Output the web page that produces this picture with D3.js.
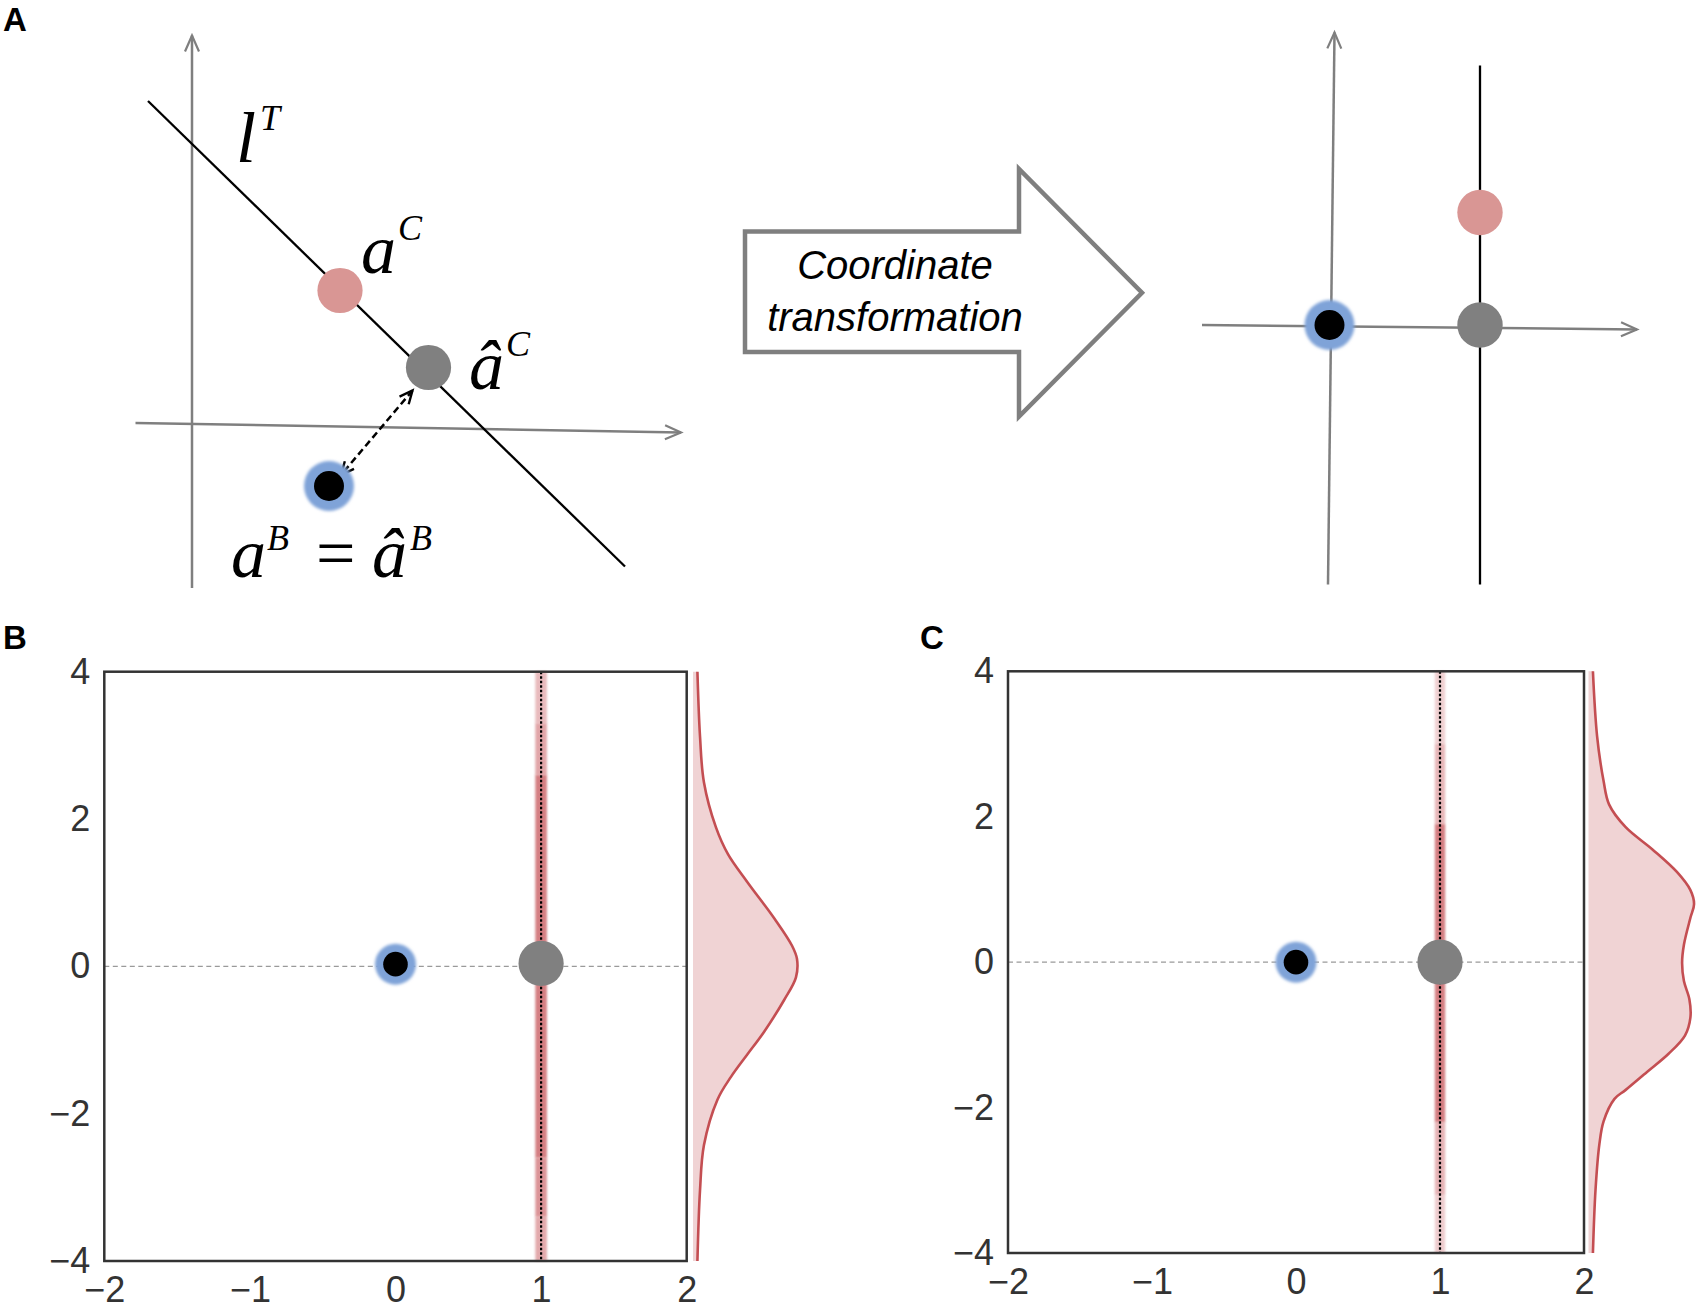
<!DOCTYPE html>
<html><head><meta charset="utf-8">
<script src="https://cdn.jsdelivr.net/npm/d3@7"></script>
<style>body{margin:0;background:#fff}</style>
</head><body>
<svg id="fig" width="1700" height="1312" xmlns="http://www.w3.org/2000/svg"></svg>
<script>
// ================= DATA =================
const panelLabels = ["A", "B", "C"];
const xTicks = [-2, -1, 0, 1, 2];
const yTicks = [-4, -2, 0, 2, 4];

// Panel A, left schematic (concept units)
const axisA_vertical = [[0, -3.28], [0, 7.77]];
const axisA_horizontal = [[-1.13, 0.02], [9.78, -0.17]];
const lineT = [[-0.88, 6.46], [8.66, -2.85]];
const pointA_target = [2.96, 2.67];     // a^C
const pointA_proj = [4.73, 1.13];       // â^C
const pointA_base = [2.74, -1.24];      // a^B
const projArrow = [[4.41, 0.67], [2.98, -1.02]];
const labelA_lT = [0.88, 5.25];
const labelA_aC = [3.38, 3.02];
const labelA_ahatC = [5.54, 0.71];
const labelA_aB = [0.78, -3.06];

// Panel A, right schematic (concept units)
const axisR_vertical = [[-0.03, -5.19], [0.10, 5.85]];
const axisR_horizontal = [[-2.55, 0], [6.15, -0.09]];
const lineR = [[3.01, 5.19], [3.01, -5.19]];
const pointR_target = [3.01, 2.25];
const pointR_base = [0, 0];
const pointR_proj = [3.01, 0];

const arrowText = ["Coordinate", "transformation"];

// Panel B
const baseB = [0, 0.03];
const projB = [1, 0.04];
const lineXB = 1;
const bandB_y0 = [4.0, 3.3, 2.6, -2.6, -3.4];
const bandB_y1 = [3.3, 2.6, -2.6, -3.4, -4.0];
const bandB_alpha = [0.38, 0.5, 0.72, 0.6, 0.48];
const densB_y = [4, 3.12, 2.5, 1.89, 1.52, 1.15, 0.65, 0.28, 0.1, -0.15, -0.46, -0.89, -1.2, -1.5, -1.81, -2.43, -3.04, -4];
const densB_d = [0.017, 0.027, 0.042, 0.088, 0.135, 0.208, 0.313, 0.381, 0.40, 0.396, 0.350, 0.273, 0.208, 0.146, 0.094, 0.042, 0.027, 0.017];

// Panel C
const baseC = [0, 0];
const projC = [1, 0];
const lineXC = 1;
const bandC_y0 = [4.0, 3.0, 1.9, -2.2, -3.2];
const bandC_y1 = [3.0, 1.9, -2.2, -3.2, -4.0];
const bandC_alpha = [0.26, 0.4, 0.72, 0.42, 0.28];
const densC_y = [4, 3.11, 2.49, 2.17, 1.86, 1.55, 1.24, 0.99, 0.8, 0.61, 0.24, -0.01, -0.26, -0.51, -0.76, -1.01, -1.26, -1.51, -1.76, -1.88, -2.19, -2.5, -3.13, -4];
const densC_d = [0.017, 0.033, 0.058, 0.079, 0.142, 0.246, 0.340, 0.392, 0.406, 0.392, 0.367, 0.360, 0.367, 0.388, 0.392, 0.371, 0.308, 0.225, 0.142, 0.100, 0.058, 0.042, 0.027, 0.017];

// ================= DRAW =================
const svg = d3.select("#fig");
const defs = svg.append("defs");

const GRAY = "#7f7f7f", PINK = "#d99694", DGRAY = "#808080", BLUE = "#7fa3d8", RED = "#c44e52";
const SERIF = "'Liberation Serif','Times New Roman',serif";
const SANS = "'Liberation Sans',Arial,Helvetica,sans-serif";

function openMarker(id, len, half, color, sw) {
  defs.append("marker").attr("id", id)
    .attr("markerUnits", "userSpaceOnUse")
    .attr("viewBox", `0 0 ${len + 4} ${2 * half + 4}`)
    .attr("markerWidth", len + 4).attr("markerHeight", 2 * half + 4)
    .attr("refX", len + 1).attr("refY", half + 2)
    .attr("orient", "auto-start-reverse")
    .append("path")
    .attr("d", `M1,2 L${len + 1},${half + 2} L1,${2 * half + 2}`)
    .attr("fill", "none").attr("stroke", color).attr("stroke-width", sw)
    .attr("stroke-linejoin", "miter");
}
openMarker("arrGray", 16, 7, GRAY, 2.2);
openMarker("arrBlack", 13, 6, "#000", 2.4);

const glow = defs.append("filter").attr("id", "glow").attr("x", "-50%").attr("y", "-50%").attr("width", "200%").attr("height", "200%");
glow.append("feGaussianBlur").attr("stdDeviation", 1.4);
const soft = defs.append("filter").attr("id", "soft").attr("x", "-50%").attr("y", "-50%").attr("width", "200%").attr("height", "200%");
soft.append("feGaussianBlur").attr("stdDeviation", 0.7);
const bandBlur = defs.append("filter").attr("id", "bandBlur").attr("x", "-100%").attr("y", "-5%").attr("width", "300%").attr("height", "110%");
bandBlur.append("feGaussianBlur").attr("stdDeviation", 1.1);

// panel letters
const letterPos = [[3, 31], [3, 649], [920, 649]];
svg.selectAll("text.plabel").data(panelLabels).join("text")
  .attr("class", "plabel")
  .attr("x", (d, i) => letterPos[i][0]).attr("y", (d, i) => letterPos[i][1])
  .attr("font-family", SANS).attr("font-weight", "bold").attr("font-size", 33)
  .attr("fill", "#000").text(d => d);

// ---------- Panel A left ----------
const xA = d3.scaleLinear().domain([0, 10]).range([192, 692]);
const yA = d3.scaleLinear().domain([0, 10]).range([424, -76]);
const lineA = d3.line().x(d => xA(d[0])).y(d => yA(d[1]));
const gA = svg.append("g");

gA.append("path").attr("d", lineA(axisA_vertical)).attr("stroke", GRAY).attr("stroke-width", 2.5).attr("fill", "none").attr("marker-end", "url(#arrGray)");
gA.append("path").attr("d", lineA(axisA_horizontal)).attr("stroke", GRAY).attr("stroke-width", 2.5).attr("fill", "none").attr("marker-end", "url(#arrGray)");
gA.append("path").attr("d", lineA(lineT)).attr("stroke", "#000").attr("stroke-width", 2.3).attr("fill", "none");

gA.append("circle").attr("cx", xA(pointA_target[0])).attr("cy", yA(pointA_target[1])).attr("r", 22.6).attr("fill", PINK);
gA.append("circle").attr("cx", xA(pointA_proj[0])).attr("cy", yA(pointA_proj[1])).attr("r", 22.6).attr("fill", DGRAY);
gA.append("path").attr("d", lineA(projArrow)).attr("stroke", "#000").attr("stroke-width", 2.5)
  .attr("stroke-dasharray", "7,4").attr("fill", "none")
  .attr("marker-start", "url(#arrBlack)").attr("marker-end", "url(#arrBlack)");
gA.append("circle").attr("cx", xA(pointA_base[0])).attr("cy", yA(pointA_base[1])).attr("r", 25).attr("fill", BLUE).attr("filter", "url(#glow)");
gA.append("circle").attr("cx", xA(pointA_base[0])).attr("cy", yA(pointA_base[1])).attr("r", 15).attr("fill", "#000").attr("filter", "url(#soft)");

function mathLabel(g, pos, parts) {
  const t = g.append("text").attr("font-family", SERIF).attr("fill", "#000");
  parts.forEach(p => {
    t.append("tspan").attr("x", xA(pos[0]) + p.dx).attr("y", yA(pos[1]) + p.dy)
      .attr("font-size", p.size).attr("font-style", p.italic === false ? "normal" : "italic")
      .text(p.s);
  });
}
mathLabel(gA, labelA_lT, [{s: "l", dx: 0, dy: 0, size: 72}, {s: "T", dx: 24, dy: -32, size: 36}]);
mathLabel(gA, labelA_aC, [{s: "a", dx: 0, dy: 0, size: 70}, {s: "C", dx: 37, dy: -33, size: 36}]);
mathLabel(gA, labelA_ahatC, [{s: "â", dx: 0, dy: 0, size: 70}, {s: "C", dx: 37, dy: -33, size: 36}]);
mathLabel(gA, labelA_aB, [
  {s: "a", dx: 0, dy: 0, size: 70}, {s: "B", dx: 36, dy: -27, size: 36},
  {s: "=", dx: 85, dy: 0, size: 70, italic: false},
  {s: "â", dx: 141, dy: 0, size: 70}, {s: "B", dx: 179, dy: -27, size: 36}]);

// ---------- block arrow ----------
const gArr = svg.append("g");
const bx0 = 745, bx1 = 1019, tipX = 1142, by0 = 231.5, by1 = 352, hy0 = 169, hy1 = 416.5;
gArr.append("path")
  .attr("d", `M${bx0},${by0} L${bx1},${by0} L${bx1},${hy0} L${tipX},${(hy0 + hy1) / 2} L${bx1},${hy1} L${bx1},${by1} L${bx0},${by1} Z`)
  .attr("fill", "#fff").attr("stroke", GRAY).attr("stroke-width", 4.5).attr("stroke-linejoin", "miter");
gArr.selectAll("text").data(arrowText).join("text")
  .attr("x", 895).attr("y", (d, i) => 279 + i * 52)
  .attr("text-anchor", "middle").attr("font-family", SANS).attr("font-style", "italic")
  .attr("font-size", 40).attr("fill", "#000").text(d => d);

// ---------- Panel A right ----------
const xR = d3.scaleLinear().domain([0, 10]).range([1329.5, 1829.5]);
const yR = d3.scaleLinear().domain([0, 10]).range([325, -175]);
const lineRg = d3.line().x(d => xR(d[0])).y(d => yR(d[1]));
const gR = svg.append("g");
gR.append("path").attr("d", lineRg(axisR_vertical)).attr("stroke", GRAY).attr("stroke-width", 2.5).attr("fill", "none").attr("marker-end", "url(#arrGray)");
gR.append("path").attr("d", lineRg(axisR_horizontal)).attr("stroke", GRAY).attr("stroke-width", 2.5).attr("fill", "none").attr("marker-end", "url(#arrGray)");
gR.append("path").attr("d", lineRg(lineR)).attr("stroke", "#000").attr("stroke-width", 2.3).attr("fill", "none");
gR.append("circle").attr("cx", xR(pointR_target[0])).attr("cy", yR(pointR_target[1])).attr("r", 22.7).attr("fill", PINK);
gR.append("circle").attr("cx", xR(pointR_proj[0])).attr("cy", yR(pointR_proj[1])).attr("r", 22.7).attr("fill", DGRAY);
gR.append("circle").attr("cx", xR(pointR_base[0])).attr("cy", yR(pointR_base[1])).attr("r", 25).attr("fill", BLUE).attr("filter", "url(#glow)");
gR.append("circle").attr("cx", xR(pointR_base[0])).attr("cy", yR(pointR_base[1])).attr("r", 15).attr("fill", "#000").attr("filter", "url(#soft)");

// ---------- Panels B and C ----------
function scatterPanel(cfg) {
  const g = svg.append("g");
  const x = d3.scaleLinear().domain([-2, 2]).range([cfg.left, cfg.right]);
  const y = d3.scaleLinear().domain([-4, 4]).range([cfg.bottom, cfg.top]);
  const dens = d3.scaleLinear().domain([0, 0.4]).range([cfg.dBase, cfg.dBase + 104]);

  const segs = cfg.y0.map((v, i) => ({y0: v, y1: cfg.y1[i], a: cfg.alpha[i]}));
  g.selectAll("rect.band").data(segs).join("rect").attr("class", "band")
    .attr("x", x(cfg.lineX) - cfg.bandHalf).attr("width", 2 * cfg.bandHalf)
    .attr("y", d => y(d.y0)).attr("height", d => y(d.y1) - y(d.y0))
    .attr("fill", RED).attr("opacity", d => d.a).attr("filter", "url(#bandBlur)");

  g.append("line").attr("x1", x(-2)).attr("x2", x(2)).attr("y1", y(0)).attr("y2", y(0))
    .attr("stroke", "#9a9a9a").attr("stroke-width", 1.3).attr("stroke-dasharray", "5,3.5");
  g.append("line").attr("x1", x(cfg.lineX)).attr("x2", x(cfg.lineX)).attr("y1", y(4)).attr("y2", y(-4))
    .attr("stroke", "#000").attr("stroke-width", 2.2).attr("stroke-dasharray", "2.5,2");

  g.append("rect").attr("x", cfg.left).attr("y", cfg.top)
    .attr("width", cfg.right - cfg.left).attr("height", cfg.bottom - cfg.top)
    .attr("fill", "none").attr("stroke", "#333").attr("stroke-width", 2.5);

  g.append("circle").attr("cx", x(cfg.proj[0])).attr("cy", y(cfg.proj[1])).attr("r", 22.6).attr("fill", DGRAY);
  g.append("circle").attr("cx", x(cfg.base[0])).attr("cy", y(cfg.base[1])).attr("r", 20.5).attr("fill", BLUE).attr("filter", "url(#glow)");
  g.append("circle").attr("cx", x(cfg.base[0])).attr("cy", y(cfg.base[1])).attr("r", 12.3).attr("fill", "#000").attr("filter", "url(#soft)");

  const ax = g.append("g").attr("transform", `translate(0,${cfg.bottom})`)
    .call(d3.axisBottom(x).tickValues(xTicks).tickSize(0).tickPadding(15).tickFormat(d3.format("d")));
  const ay = g.append("g").attr("transform", `translate(${cfg.left},0)`)
    .call(d3.axisLeft(y).tickValues(yTicks).tickSize(0).tickPadding(14).tickFormat(d3.format("d")));
  [ax, ay].forEach(a => {
    a.select(".domain").remove();
    a.selectAll("text").attr("font-family", SANS).attr("font-size", 36).attr("fill", "#333");
  });

  const pts = cfg.dy.map((v, i) => [v, cfg.dd[i]]);
  const area = d3.area().curve(d3.curveCatmullRom)
    .y(d => y(d[0])).x0(cfg.dBase).x1(d => dens(d[1]));
  g.append("path").attr("d", area(pts)).attr("fill", RED).attr("fill-opacity", 0.25);
  const ln = d3.line().curve(d3.curveCatmullRom).y(d => y(d[0])).x(d => dens(d[1]));
  g.append("path").attr("d", ln(pts)).attr("fill", "none").attr("stroke", RED).attr("stroke-width", 2.6);
}

scatterPanel({left: 104.3, right: 686.7, top: 671.7, bottom: 1261, dBase: 693,
  lineX: lineXB, bandHalf: 5.8, y0: bandB_y0, y1: bandB_y1, alpha: bandB_alpha,
  base: baseB, proj: projB, dy: densB_y, dd: densB_d});
scatterPanel({left: 1008, right: 1584, top: 671.3, bottom: 1253, dBase: 1588.5,
  lineX: lineXC, bandHalf: 5.2, y0: bandC_y0, y1: bandC_y1, alpha: bandC_alpha,
  base: baseC, proj: projC, dy: densC_y, dd: densC_d});
</script>
</body></html>
